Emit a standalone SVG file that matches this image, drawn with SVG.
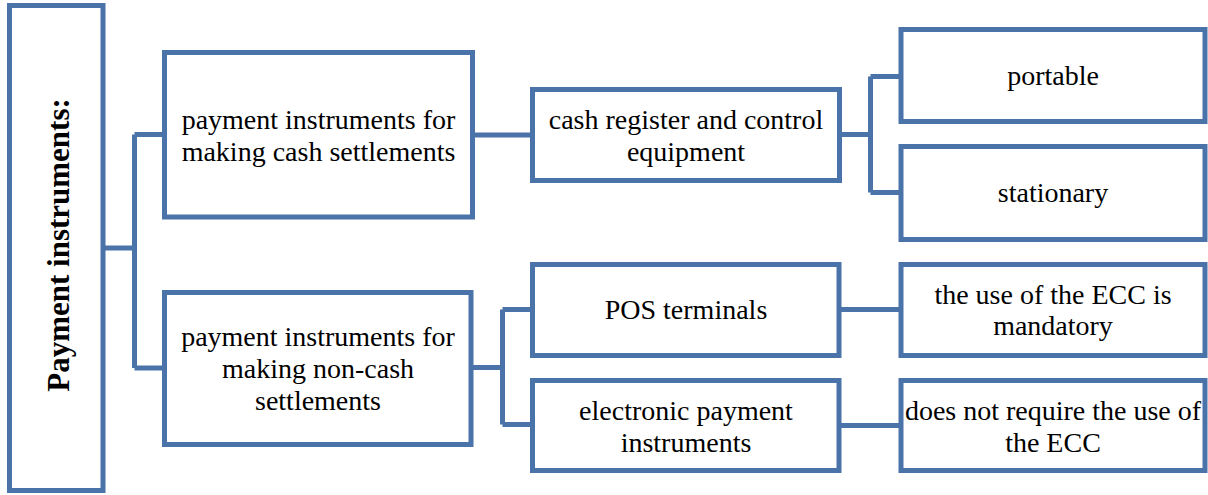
<svg xmlns="http://www.w3.org/2000/svg" width="1208" height="495" viewBox="0 0 1208 495">
<style>
.box{fill:#fff;stroke:#4a73a9;stroke-width:5}
.conn{fill:none;stroke:#4a73a9;stroke-width:5;stroke-linejoin:round}
text{font-family:"Liberation Serif","Times New Roman",serif;font-size:28px;fill:#000;text-anchor:middle}
.title{font-weight:bold;font-size:31px}
</style>
<rect width="1208" height="495" fill="#fff"/>
<g id="connectors">
<path class="conn" d="M103,248 H134.5 M134.5,134.5 V368 M134.5,134.5 H164.5 M134.5,368 H164.5"/>
<path class="conn" d="M472.5,135 H532.5"/>
<path class="conn" d="M839.5,134.5 H870.5 M870.5,76.5 V192.5 M870.5,76.5 H901 M870.5,192.5 H901"/>
<path class="conn" d="M471,367.5 H502.5 M502.5,309.5 V424.5 M502.5,309.5 H532.5 M502.5,424.5 H532.5"/>
<path class="conn" d="M839,309.5 H901"/>
<path class="conn" d="M839,425.5 H901"/>
</g>
<g id="root">
<rect class="box" x="9.5" y="5.5" width="93.5" height="485"/>
<text class="title" transform="translate(69,245) rotate(-90)">Payment instruments:</text>
</g>
<g id="cash">
<rect class="box" x="164.5" y="52.5" width="308" height="164.5"/>
<text x="318.5" y="129">payment instruments for</text>
<text x="318.5" y="161">making cash settlements</text>
</g>
<g id="noncash">
<rect class="box" x="164.5" y="292.5" width="306.5" height="152"/>
<text x="318" y="346">payment instruments for</text>
<text x="318" y="378">making non-cash</text>
<text x="318" y="410">settlements</text>
</g>
<g id="register">
<rect class="box" x="532.5" y="89.5" width="307" height="91"/>
<text x="686" y="129">cash register and control</text>
<text x="686" y="161">equipment</text>
</g>
<g id="portable">
<rect class="box" x="901" y="29.5" width="304" height="92"/>
<text x="1053" y="85">portable</text>
</g>
<g id="stationary">
<rect class="box" x="901" y="146.5" width="304" height="93"/>
<text x="1053" y="202">stationary</text>
</g>
<g id="pos">
<rect class="box" x="532.5" y="264.5" width="306.5" height="91"/>
<text x="686" y="319">POS terminals</text>
</g>
<g id="electronic">
<rect class="box" x="532.5" y="380.5" width="306.5" height="90"/>
<text x="686" y="420">electronic payment</text>
<text x="686" y="452">instruments</text>
</g>
<g id="mandatory">
<rect class="box" x="901" y="264.5" width="304" height="91"/>
<text x="1053" y="304">the use of the ECC is</text>
<text x="1053" y="335">mandatory</text>
</g>
<g id="notrequired">
<rect class="box" x="901" y="380.5" width="304" height="90"/>
<text x="1053" y="420">does not require the use of</text>
<text x="1053" y="452">the ECC</text>
</g>
</svg>
